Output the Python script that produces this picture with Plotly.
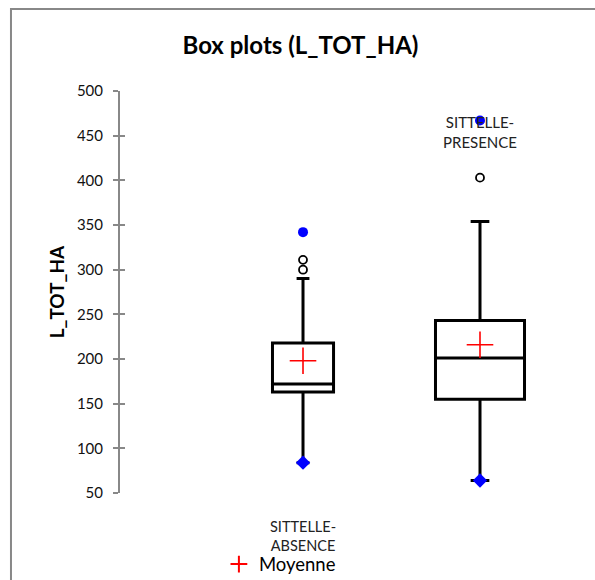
import plotly.graph_objects as go

categories = ["SITTELLE-ABSENCE", "SITTELLE-PRESENCE"]
x_pos = [1, 2]
q1 = [163, 155]
median = [172, 201]
q3 = [218, 243]
lower_whisker = [84, 64]
upper_whisker = [290, 354]
means = [198, 216]
minimum = [84, 64]
maximum = [342, 467]
outliers = [[300, 311], [403]]
box_widths = [0.345, 0.503]
y_ticks = [50, 100, 150, 200, 250, 300, 350, 400, 450, 500]

FONT = "Lato"

fig = go.Figure()

for i, cat in enumerate(categories):
    fig.add_trace(go.Box(
        x=[x_pos[i]], q1=[q1[i]], median=[median[i]], q3=[q3[i]],
        lowerfence=[lower_whisker[i]], upperfence=[upper_whisker[i]],
        width=box_widths[i], whiskerwidth=0.21,
        fillcolor="white", line=dict(color="black", width=3),
        boxpoints=False, showlegend=False, name=cat, hoverinfo="skip",
    ))
    fig.add_trace(go.Scatter(
        x=[x_pos[i]] * len(outliers[i]), y=outliers[i], mode="markers",
        marker=dict(symbol="circle-open", size=8, color="black", line=dict(width=1.8)),
        showlegend=False, hoverinfo="skip",
    ))
    fig.add_trace(go.Scatter(
        x=[x_pos[i]], y=[minimum[i]], mode="markers",
        marker=dict(symbol="diamond", size=11, color="#0000FF"),
        showlegend=False, hoverinfo="skip",
    ))
    fig.add_trace(go.Scatter(
        x=[x_pos[i]], y=[maximum[i]], mode="markers",
        marker=dict(symbol="circle", size=10, color="#0000FF"),
        showlegend=False, hoverinfo="skip",
    ))

fig.add_trace(go.Scatter(
    x=x_pos, y=means, mode="markers", name="Moyenne",
    marker=dict(symbol="cross-thin", size=19, color="red", line=dict(color="red", width=1.6)),
    hoverinfo="skip",
))

# category labels
fig.add_annotation(x=x_pos[0], y=-0.108, xref="x", yref="paper", yanchor="middle",
                   text="SITTELLE-<br>ABSENCE", showarrow=False,
                   font=dict(family=FONT, size=14.5, color="#222"))
fig.add_annotation(x=x_pos[1], y=0.897, xref="x", yref="paper", yanchor="middle",
                   text="SITTELLE-<br>PRESENCE", showarrow=False,
                   font=dict(family=FONT, size=15, color="#222"))

# outer chart border (partially visible): top and left edges
fig.add_shape(type="rect", xref="paper", yref="paper",
              x0=-0.237, x1=1.25, y0=-0.3, y1=1.204,
              line=dict(color="#888", width=2), layer="above")

fig.update_layout(
    width=595, height=580,
    margin=dict(l=120, r=15, t=91, b=87, autoexpand=False),
    plot_bgcolor="white", paper_bgcolor="white",
    title=dict(text="<b>Box plots (L_TOT_HA)</b>", x=0.505, xanchor="center",
               y=0.922, yanchor="middle",
               font=dict(family=FONT, size=24, color="black")),
    xaxis=dict(range=[-0.034, 2.565], visible=False),
    yaxis=dict(range=[50, 500], tickvals=y_ticks, showgrid=False, zeroline=False,
               showline=True, linecolor="#888", linewidth=2,
               ticks="outside", ticklen=5, tickcolor="#888", tickwidth=1.5,
               ticklabelstandoff=7,
               tickfont=dict(family=FONT, size=15, color="#111"),
               title=dict(text="<b>L_TOT_HA</b>", standoff=7,
                          font=dict(family=FONT, size=19, color="black"))),
    yaxis2=dict(range=[50, 500], tickvals=y_ticks, overlaying="y", side="left",
                showgrid=False, zeroline=False, showticklabels=False,
                ticks="inside", ticklen=5, tickcolor="#888", tickwidth=1.5,
                showline=False),
    legend=dict(x=0.215, y=-0.178, xanchor="left", yanchor="middle",
                font=dict(family=FONT, size=18.5, color="black"),
                bgcolor="rgba(0,0,0,0)", itemwidth=30, itemsizing="constant"),
)

fig.add_trace(go.Scatter(x=[None], y=[None], yaxis="y2", showlegend=False, hoverinfo="skip"))

fig.write_html(
    "out.html", config={"displayModeBar": False},
    post_script=("document.body.style.margin='0px';"
                 "document.documentElement.style.overflow='hidden';"
                 "document.body.style.overflow='hidden';"),
)
